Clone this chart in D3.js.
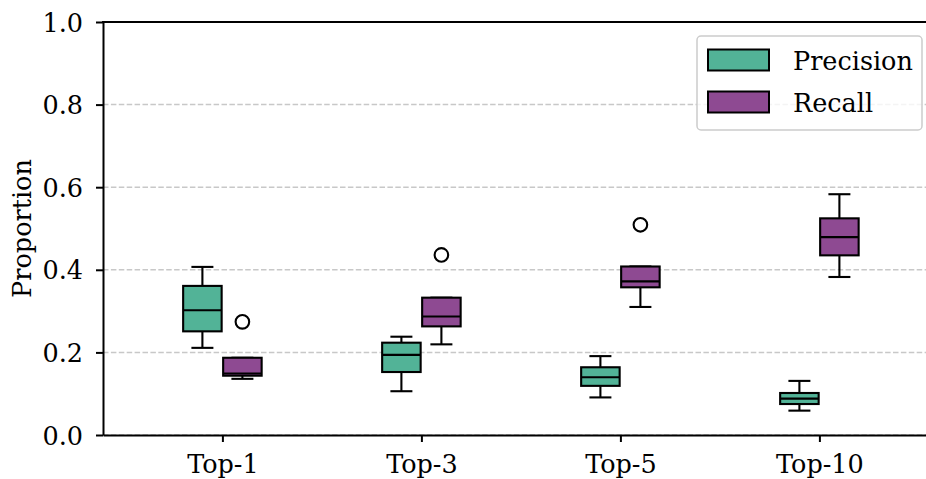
<!DOCTYPE html>
<html>
<head>
<meta charset="utf-8">
<script src="https://cdn.jsdelivr.net/npm/d3@7"></script>
<style>
  html, body { margin: 0; padding: 0; background: #fff; }
  svg { display: block; }
  text { font-family: "DejaVu Serif", serif; fill: #000; }
</style>
</head>
<body>
<svg id="chart" width="926" height="479"></svg>
<script>
// Retrieval depth buckets on the x axis
const categories = ["Top-1", "Top-3", "Top-5", "Top-10"];
const seriesNames = ["Precision", "Recall"];
const seriesColors = ["#52b397", "#8e4a92"];

// Box statistics per bucket: [lower whisker, Q1, median, Q3, upper whisker]
const precisionStats = [
  [0.211, 0.251, 0.302, 0.361, 0.407],
  [0.106, 0.1525, 0.194, 0.2235, 0.238],
  [0.091, 0.119, 0.140, 0.164, 0.191],
  [0.059, 0.075, 0.088, 0.1017, 0.131]
];
const recallStats = [
  [0.136, 0.1436, 0.149, 0.187, 0.187],
  [0.2195, 0.263, 0.287, 0.3325, 0.3325],
  [0.310, 0.3576, 0.372, 0.408, 0.408],
  [0.3826, 0.435, 0.479, 0.5246, 0.583]
];
// Fliers beyond the whiskers
const precisionOutliers = [[], [], [], []];
const recallOutliers = [[0.274], [0.436], [0.509], []];

const yTicks = [0.0, 0.2, 0.4, 0.6, 0.8, 1.0];

const svg = d3.select("#chart");
const plotLeft = 103, plotTop = 22, plotBottom = 435, plotRight = 938.8;
const fontSize = 25.5;
const lw = 2.1;

const x = d3.scalePoint().domain(categories).range([plotLeft, plotRight]).padding(0.6);
const sub = d3.scaleBand().domain(seriesNames).range([-40, 40]).padding(0);
const y = d3.scaleLinear().domain([0, 1]).range([plotBottom, plotTop]);

// dashed horizontal grid
svg.append("g")
  .selectAll("line")
  .data(yTicks)
  .join("line")
  .attr("x1", plotLeft).attr("x2", plotRight)
  .attr("y1", d => y(d)).attr("y2", d => y(d))
  .attr("stroke", "#c8c8c8")
  .attr("stroke-width", 1.5)
  .attr("stroke-dasharray", "5.5,2.4");

// boxes
const series = [
  { name: "Precision", stats: precisionStats, outliers: precisionOutliers, color: seriesColors[0] },
  { name: "Recall", stats: recallStats, outliers: recallOutliers, color: seriesColors[1] }
];

const boxW = sub.bandwidth() - 1.5;
const capW = 22;

series.forEach(s => {
  const g = svg.append("g");
  s.stats.forEach((st, i) => {
    const [lo, q1, med, q3, hi] = st;
    const cx = x(categories[i]) + sub(s.name) + sub.bandwidth() / 2;
    const bg = g.append("g");
    // whiskers
    bg.append("line").attr("x1", cx).attr("x2", cx).attr("y1", y(q3)).attr("y2", y(hi))
      .attr("stroke", "#000").attr("stroke-width", lw);
    bg.append("line").attr("x1", cx).attr("x2", cx).attr("y1", y(q1)).attr("y2", y(lo))
      .attr("stroke", "#000").attr("stroke-width", lw);
    // caps
    [lo, hi].forEach(v => {
      bg.append("line").attr("x1", cx - capW / 2).attr("x2", cx + capW / 2)
        .attr("y1", y(v)).attr("y2", y(v))
        .attr("stroke", "#000").attr("stroke-width", lw);
    });
    // box
    bg.append("rect")
      .attr("x", cx - boxW / 2).attr("width", boxW)
      .attr("y", y(q3)).attr("height", y(q1) - y(q3))
      .attr("fill", s.color).attr("stroke", "#000").attr("stroke-width", lw);
    // median
    bg.append("line").attr("x1", cx - boxW / 2).attr("x2", cx + boxW / 2)
      .attr("y1", y(med)).attr("y2", y(med))
      .attr("stroke", "#000").attr("stroke-width", lw);
    // fliers
    s.outliers[i].forEach(v => {
      bg.append("circle").attr("cx", cx).attr("cy", y(v)).attr("r", 6.8)
        .attr("fill", "none").attr("stroke", "#000").attr("stroke-width", lw);
    });
  });
});

// axes
const yAxis = d3.axisLeft(y).tickValues(yTicks).tickFormat(d3.format(".1f"))
  .tickSize(7).tickPadding(13).tickSizeOuter(0);
const gy = svg.append("g").attr("transform", `translate(${plotLeft},0)`).call(yAxis);
gy.selectAll("text").attr("font-size", fontSize).attr("dy", "0.36em").style("font-family", "DejaVu Serif");
gy.selectAll("line").attr("stroke-width", 2);
gy.select(".domain").attr("stroke-width", 2);

const xAxis = d3.axisBottom(x).tickSize(7).tickPadding(13).tickSizeOuter(0);
const gx = svg.append("g").attr("transform", `translate(0,${plotBottom})`).call(xAxis);
gx.selectAll("text").attr("font-size", fontSize).style("font-family", "DejaVu Serif");
gx.selectAll("line").attr("stroke-width", 2);
gx.select(".domain").attr("stroke-width", 2);

// top spine
svg.append("line").attr("x1", plotLeft - 1).attr("x2", plotRight).attr("y1", plotTop).attr("y2", plotTop)
  .attr("stroke", "#000").attr("stroke-width", 2);

// y label
svg.append("text")
  .attr("transform", `translate(31,${(plotTop + plotBottom) / 2}) rotate(-90)`)
  .attr("text-anchor", "middle")
  .attr("font-size", fontSize)
  .text("Proportion");

// legend
const lg = svg.append("g");
lg.append("rect").attr("x", 697).attr("y", 36).attr("width", 225).attr("height", 94)
  .attr("rx", 4).attr("fill", "#fff").attr("fill-opacity", 0.8)
  .attr("stroke", "#cccccc").attr("stroke-width", 1.5);
seriesNames.forEach((name, i) => {
  const cy = 60 + i * 42;
  lg.append("rect").attr("x", 708).attr("y", cy - 10.5).attr("width", 61).attr("height", 21)
    .attr("fill", seriesColors[i]).attr("stroke", "#000").attr("stroke-width", 2);
  lg.append("text").attr("x", 793).attr("y", cy + 9.5).attr("font-size", fontSize).text(name);
});
</script>
</body>
</html>
